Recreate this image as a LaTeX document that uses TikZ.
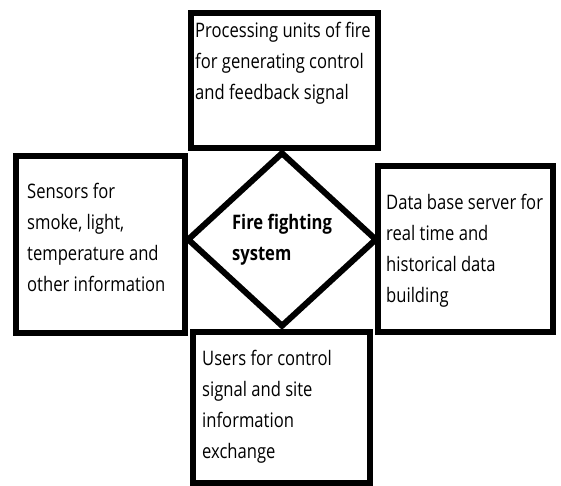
\documentclass[tikz,border=0pt]{standalone}
\usepackage{fontspec}
\setmainfont{Open Sans}[FakeStretch=0.83]
\usepackage{tikz}
\usetikzlibrary{shapes.geometric, positioning}

\begin{document}
\begin{tikzpicture}[
    x=1pt, y=-1pt,
    unitbox/.style={rectangle, draw=black, line width=6pt, fill=white, inner sep=0pt},
    hubnode/.style={diamond, draw=black, line width=6pt, fill=white, inner sep=0pt, minimum width=190pt, minimum height=175pt, align=left, font=\fontsize{20}{31}\selectfont\bfseries},
    boxtext/.style={inner sep=0pt, align=left, font=\fontsize{20}{31}\selectfont}
  ]
    \useasboundingbox (0,0) rectangle (561,486);

    % the four units round the hub
    \node[unitbox, minimum width=187pt, minimum height=135pt] (proc) at (284.5,80.5) {};
    \node[unitbox, minimum width=169pt, minimum height=177pt] (sens) at (100.5,244.5) {};
    \node[unitbox, minimum width=175pt, minimum height=166pt] (dbase) at (465.5,249) {};
    \node[unitbox, minimum width=177pt, minimum height=151pt] (users) at (281.5,407.5) {};

    % hub
    \node[hubnode] (hub) at (282,239.5) {Fire fighting\\system};

    % box texts
    \node[boxtext, below right=12pt and 7pt of proc.north west] (proctext) {Processing units of fire\\for generating control\\and feedback signal};
    \node[boxtext, below right=30pt and 14pt of sens.north west] (senstext) {Sensors for\\smoke, light,\\temperature and\\other information};
    \node[boxtext, below right=31pt and 11pt of dbase.north west] (dbasetext) {Data base server for\\real time and\\historical data\\building};
    \node[boxtext, below right=21pt and 12pt of users.north west] (userstext) {Users for control\\signal and site\\information\\exchange};
  \end{tikzpicture}
\end{document}
